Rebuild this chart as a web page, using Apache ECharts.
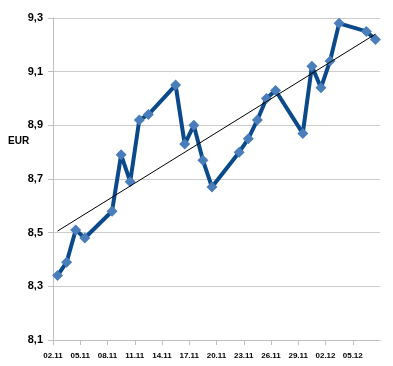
<!DOCTYPE html>
<html><head><meta charset="utf-8">
<script src="https://cdn.jsdelivr.net/npm/echarts@6/dist/echarts.min.js"></script>
<style>html,body{margin:0;padding:0;background:#fff}#c{width:393px;height:366px}</style>
</head><body><div id="c"></div>
<script>
// dates (day.month) and EUR values
const dates = ['02.11','03.11','04.11','05.11','08.11','09.11','10.11','11.11','12.11','15.11','16.11','17.11','18.11','19.11','22.11','23.11','24.11','25.11','26.11','29.11','30.11','01.12','02.12','03.12','06.12','07.12'];
const values = [8.34,8.39,8.51,8.48,8.58,8.79,8.69,8.92,8.94,9.05,8.83,8.90,8.77,8.67,8.80,8.85,8.92,9.00,9.03,8.87,9.12,9.04,9.14,9.28,9.25,9.22];
// linear trend line endpoints (first and last date)
const trendDates = ['02.11','07.12'];
const trendValues = [8.506, 9.24];
const axisStart = '02.11';
const axisDays = 36;
const yTicks = [8.1, 8.3, 8.5, 8.7, 8.9, 9.1, 9.3];

function dayIdx(s){
  const [d,m] = s.split('.').map(Number);
  const [d0,m0] = axisStart.split('.').map(Number);
  return Math.round((Date.UTC(2010,m-1,d)-Date.UTC(2010,m0-1,d0))/86400000);
}
function labelFor(v){
  const [d0,m0] = axisStart.split('.').map(Number);
  const t = new Date(Date.UTC(2010,m0-1,d0)+v*86400000);
  const dd = String(t.getUTCDate()).padStart(2,'0');
  const mm = String(t.getUTCMonth()+1).padStart(2,'0');
  return dd+'.'+mm;
}
const pts = dates.map((d,i)=>[dayIdx(d)+0.5, values[i]]);
const trend = trendDates.map((d,i)=>[dayIdx(d)+0.5, trendValues[i]]);

const chart = echarts.init(document.getElementById('c'));
chart.setOption({
  animation:false,
  grid:{left:53,right:13,top:18,bottom:26,containLabel:false},
  xAxis:{type:'value',min:0,max:axisDays,interval:3,
    axisLine:{show:true,lineStyle:{color:'#bfbfbf'}},
    axisTick:{show:true,length:5,lineStyle:{color:'#bfbfbf'}},
    splitLine:{show:false},
    axisLabel:{showMaxLabel:false,margin:12,fontFamily:'"Liberation Sans Narrow", "Liberation Sans", Arial',fontWeight:'bold',fontSize:8,color:'#000',
      formatter:v=>labelFor(v)}},
  yAxis:{type:'value',min:yTicks[0],max:yTicks[yTicks.length-1],interval:0.2,
    axisLine:{show:true,lineStyle:{color:'#bfbfbf'}},
    axisTick:{show:true,length:5,lineStyle:{color:'#bfbfbf'}},
    splitLine:{show:true,lineStyle:{color:'#cccccc',width:1}},
    axisLabel:{margin:10,fontFamily:'"Liberation Sans", Arial',fontWeight:'bold',fontSize:11,color:'#000',
      formatter:v=>v.toFixed(1).replace('.',',')}},
  graphic:[{type:'text',left:8,top:136,style:{text:'EUR',font:'bold 10px "Liberation Sans", Arial',fill:'#000'}}],
  series:[
    {type:'line',data:pts,symbol:'diamond',symbolSize:11,
     lineStyle:{color:'#0a4a8a',width:4},itemStyle:{color:'#4a7ebb'},z:3},
    {type:'line',data:trend,symbol:'none',lineStyle:{color:'#000',width:1},z:4}
  ]
});
</script></body></html>
